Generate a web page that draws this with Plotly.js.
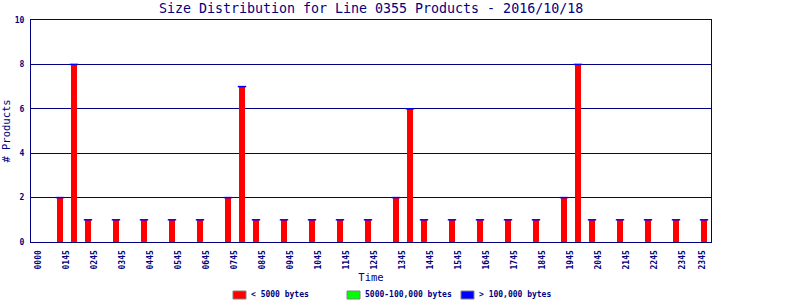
<!DOCTYPE html>
<html>
<head>
<meta charset="utf-8">
<script src="https://cdn.plot.ly/plotly-3.0.1.min.js"></script>
<style>html,body{margin:0;padding:0;background:#fff;}#chart{width:800px;height:300px;}</style>
</head>
<body>
<div id="chart"></div>
<script>
// Half-hour slots across the day (index 0..48)
const slotIndex = [0,1,2,3,4,5,6,7,8,9,10,11,12,13,14,15,16,17,18,19,20,21,22,23,24,25,26,27,28,29,30,31,32,33,34,35,36,37,38,39,40,41,42,43,44,45,46,47,48];
const smallCounts  = [0,0,2,8,1,0,1,0,1,0,1,0,1,0,2,7,1,0,1,0,1,0,1,0,1,0,2,6,1,0,1,0,1,0,1,0,1,0,2,8,1,0,1,0,1,0,1,0,1];
const mediumCounts = [0,0,0,0,0,0,0,0,0,0,0,0,0,0,0,0,0,0,0,0,0,0,0,0,0,0,0,0,0,0,0,0,0,0,0,0,0,0,0,0,0,0,0,0,0,0,0,0,0];
const largeCounts  = [0,0,0,0,0,0,0,0,0,0,0,0,0,0,0,0,0,0,0,0,0,0,0,0,0,0,0,0,0,0,0,0,0,0,0,0,0,0,0,0,0,0,0,0,0,0,0,0,0];
const tickLabels = ["0000","0145","0245","0345","0445","0545","0645","0745","0845","0945","1045","1145","1245","1345","1445","1545","1645","1745","1845","1945","2045","2145","2245","2345","2345"];
const seriesNames = ["< 5000 bytes","5000-100,000 bytes","> 100,000 bytes"];
const seriesColors = ["#ff0000","#00ff00","#0000ff"];

const NAVY = "#000080";
const FONT = "DejaVu Sans Mono";

const totals = smallCounts.map((v,i)=>v+mediumCounts[i]+largeCounts[i]);
const capX = [], capY = [];
totals.forEach((t,i)=>{ if(t>0){ capX.push(slotIndex[i]); capY.push(t); } });

const traces = [];
[smallCounts, mediumCounts, largeCounts].forEach((vals, s)=>{
  traces.push({type:"bar", x:slotIndex, y:vals, name:seriesNames[s], showlegend:false,
    marker:{color:seriesColors[s], line:{width:0}}, hoverinfo:"skip"});
});
// top edge of the stack (zero-height top series drawn as a thin line)
traces.push({type:"scatter", mode:"markers", x:capX, y:capY, showlegend:false, hoverinfo:"skip",
  marker:{symbol:"line-ew", size:6, line:{color:"#0000ff", width:1.5}}});

const tickVals = tickLabels.map((_,i)=> i<24 ? 2*i+0.43 : 47.86);

// Legend drawn below the plot (paper coordinates: plot spans 680 x 222 px)
const PW = 680, PH = 222;
const legendShapes = [], legendNotes = [];
seriesNames.forEach((n,s)=>{
  const bx = 233 - 31 + s*114;   // px from plot left
  legendShapes.push({type:"rect", xref:"paper", yref:"paper",
    x0:bx/PW, x1:(bx+13)/PW, y0:-(299-242)/PH, y1:-(291-242)/PH,
    fillcolor:seriesColors[s], line:{color:"#808080", width:1}});
  legendNotes.push({xref:"paper", yref:"paper", x:(bx+16)/PW, y:-(294.5-242)/PH,
    xanchor:"left", yanchor:"middle", showarrow:false, text:n,
    font:{family:FONT, size:8, color:NAVY, weight:"bold"}});
});

const layout = {
  width:800, height:300,
  margin:{l:31, r:89, t:20, b:58, autoexpand:false},
  paper_bgcolor:"#fff", plot_bgcolor:"#fff",
  barmode:"stack", bargap:0.57,
  hovermode:false, showlegend:false,
  title:{text:"Size Distribution for Line 0355 Products - 2016/10/18",
    font:{family:FONT, size:13.3, color:NAVY}, x:0.4638, xanchor:"center", y:0.972, yanchor:"middle"},
  xaxis:{range:[-0.07,48.5], tickmode:"array", tickvals:tickVals, ticktext:tickLabels,
    tickangle:-90, ticks:"", showgrid:false, zeroline:false,
    showline:true, linecolor:NAVY, linewidth:1, mirror:true,
    tickfont:{family:FONT, size:8, color:NAVY, weight:"bold"}, ticklabelstandoff:4,
    title:{text:"Time", font:{family:FONT, size:10.5, color:NAVY}, standoff:5}},
  yaxis:{range:[0,10], tickmode:"array", tickvals:[0,2,4,6,8,10], ticks:"",
    showgrid:true, gridcolor:NAVY, gridwidth:1, zeroline:false,
    showline:true, linecolor:NAVY, linewidth:1, mirror:true,
    tickfont:{family:FONT, size:8, color:NAVY, weight:"bold"}, ticklabelstandoff:4,
    title:{text:"# Products", font:{family:FONT, size:10.5, color:NAVY}, standoff:6}},
  shapes:legendShapes,
  annotations:legendNotes
};

Plotly.newPlot("chart", traces, layout, {displayModeBar:false, staticPlot:true});
</script>
</body>
</html>
